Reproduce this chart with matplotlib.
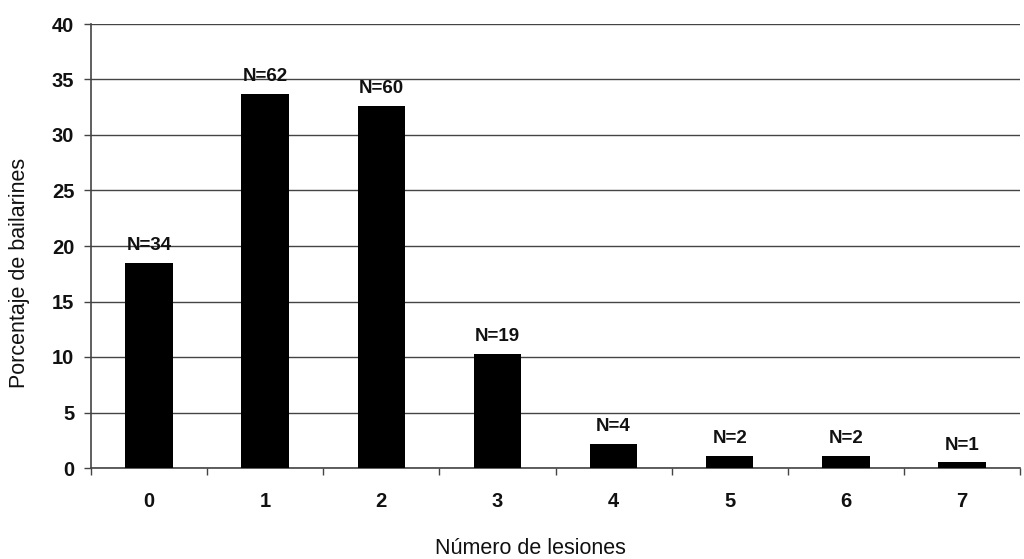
import matplotlib
matplotlib.use("Agg")
import matplotlib.pyplot as plt
import numpy as np

# data
lesiones = ["0", "1", "2", "3", "4", "5", "6", "7"]
porcentaje = [18.5, 33.7, 32.6, 10.3, 2.2, 1.1, 1.1, 0.5]
n_labels = ["N=34", "N=62", "N=60", "N=19", "N=4", "N=2", "N=2", "N=1"]

TICK_FONT = ["Liberation Sans Narrow", "Liberation Sans", "DejaVu Sans"]
LABEL_FONT = ["Liberation Sans", "DejaVu Sans"]

fig = plt.figure(figsize=(10.24, 5.59), dpi=100)
ax = fig.add_axes([91 / 1024, 91 / 559, 929 / 1024, 444 / 559])

x = np.arange(len(lesiones))
ax.bar(x, porcentaje, width=0.41, color="black", zorder=3)

for xi, val, lab in zip(x, porcentaje, n_labels):
    ax.text(xi, val + 0.8, lab, ha="center", va="bottom", fontsize=13.5,
            fontweight="bold", family=TICK_FONT, color="#111111")

ax.set_xlim(-0.5, len(lesiones) - 0.5)
ax.set_ylim(0, 40)
ax.set_yticks(range(0, 41, 5))
ax.yaxis.grid(True, color="#444444", linewidth=1.0, zorder=0)

# ticks between categories, labels at centres
ax.set_xticks(np.arange(-0.5, len(lesiones), 1.0))
ax.set_xticklabels([])
ax.set_xticks(x, minor=True)
ax.set_xticklabels(lesiones, minor=True)
ax.tick_params(axis="x", which="major", length=5, width=1, color="#444444", direction="out")
ax.tick_params(axis="x", which="minor", length=0, pad=17)
ax.tick_params(axis="y", length=5, width=1, color="#444444", pad=7)

for lbl in ax.get_xticklabels(minor=True) + ax.get_yticklabels():
    lbl.set_family(TICK_FONT)
    lbl.set_fontweight("bold")
    lbl.set_fontsize(14.5)
    lbl.set_color("#111111")

for side in ["top", "right"]:
    ax.spines[side].set_visible(False)
for side in ["left", "bottom"]:
    ax.spines[side].set_color("#444444")
    ax.spines[side].set_linewidth(1.2)

fig.text(530 / 1024, 1 - 548 / 559, "Número de lesiones", ha="center", va="center",
         fontsize=15.5, family=LABEL_FONT, color="#111111")
fig.text(20 / 1024, 1 - 273 / 559, "Porcentaje de bailarines", ha="center", va="center",
         rotation=90, fontsize=15.5, family=LABEL_FONT, color="#111111")

fig.savefig("out.png", dpi=100)
